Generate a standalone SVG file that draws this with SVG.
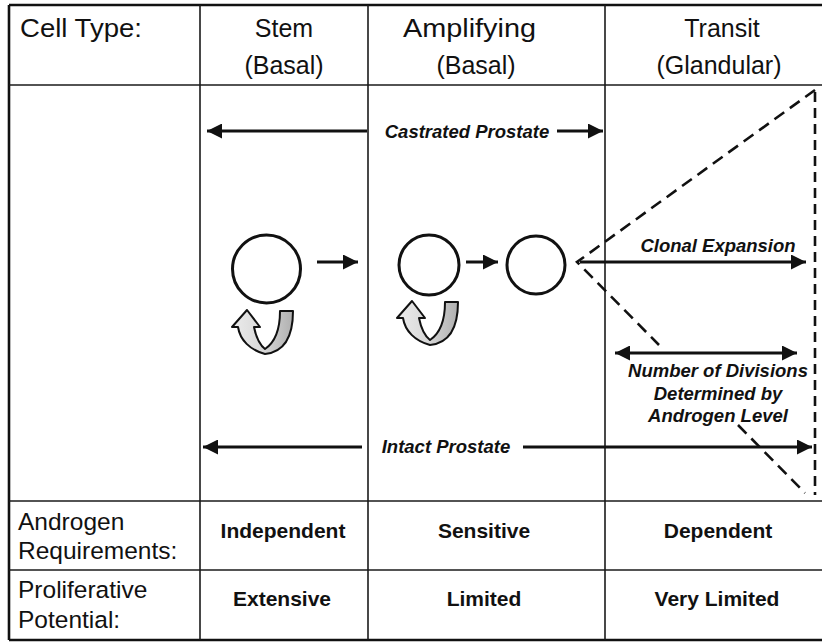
<svg xmlns="http://www.w3.org/2000/svg" width="822" height="642" viewBox="0 0 822 642">
<style>
.grid{stroke:#1a1a1a;stroke-width:1.6;fill:none}
.border{stroke:#111;stroke-width:2.6;fill:none}
.hdr{font-family:"Liberation Sans",Arial,sans-serif;font-size:25px;fill:#111}
.lbl{font-family:"Liberation Sans",Arial,sans-serif;font-size:24.5px;fill:#111}
.val{font-family:"Liberation Sans",Arial,sans-serif;font-size:21px;font-weight:bold;fill:#111}
.it{font-family:"Liberation Sans",Arial,sans-serif;font-size:18.5px;font-weight:bold;font-style:italic;fill:#111}
.cell{fill:#fff;stroke:#111;stroke-width:3}
.arr{stroke:#111;stroke-width:3;fill:none}
.dash{stroke:#111;stroke-width:2.6;fill:none;stroke-dasharray:12 7}
.uturn{fill:url(#ug);stroke:#111;stroke-width:2;stroke-linejoin:round}
</style>
<defs>
<marker id="ah" viewBox="0 0 10 10" refX="10" refY="5" markerWidth="5.5" markerHeight="5" markerUnits="strokeWidth" orient="auto-start-reverse">
<path d="M0,0 L10,5 L0,10 Z" fill="#111"/>
</marker>
<linearGradient id="ug" x1="0" y1="0" x2="1" y2="0">
<stop offset="0" stop-color="#ececec"/>
<stop offset="0.5" stop-color="#d8d8d8"/>
<stop offset="1" stop-color="#b0b0b0"/>
</linearGradient>
</defs>
<rect width="822" height="642" fill="#fff"/>

<g id="table">
<line class="border" x1="9" y1="5" x2="822" y2="5"/>
<line class="border" x1="9" y1="5" x2="9" y2="640"/>
<line class="border" x1="9" y1="640" x2="822" y2="640"/>
<line class="grid" x1="9" y1="85" x2="822" y2="85"/>
<line class="grid" x1="9" y1="501" x2="822" y2="501"/>
<line class="grid" x1="9" y1="570" x2="822" y2="570"/>
<line class="grid" x1="200" y1="5" x2="200" y2="640"/>
<line class="grid" x1="368" y1="5" x2="368" y2="640"/>
<line class="grid" x1="605" y1="5" x2="605" y2="640"/>
</g>

<g id="header">
<text class="hdr" x="20" y="37" textLength="122" lengthAdjust="spacingAndGlyphs">Cell Type:</text>
<text class="hdr" x="284" y="37" text-anchor="middle">Stem</text>
<text class="hdr" x="284" y="74" text-anchor="middle">(Basal)</text>
<text class="hdr" x="403" y="37" textLength="133" lengthAdjust="spacingAndGlyphs">Amplifying</text>
<text class="hdr" x="476" y="74" text-anchor="middle">(Basal)</text>
<text class="hdr" x="722" y="37" text-anchor="middle">Transit</text>
<text class="hdr" x="719" y="74" text-anchor="middle">(Glandular)</text>
</g>

<g id="row-androgen">
<text class="lbl" x="18" y="530">Androgen</text>
<text class="lbl" x="18" y="559">Requirements:</text>
<text class="val" x="283" y="538" text-anchor="middle">Independent</text>
<text class="val" x="484" y="538" text-anchor="middle">Sensitive</text>
<text class="val" x="718" y="538" text-anchor="middle">Dependent</text>
</g>

<g id="row-proliferative">
<text class="lbl" x="18" y="598">Proliferative</text>
<text class="lbl" x="18" y="628">Potential:</text>
<text class="val" x="282" y="606" text-anchor="middle">Extensive</text>
<text class="val" x="484" y="606" text-anchor="middle">Limited</text>
<text class="val" x="717" y="606" text-anchor="middle">Very Limited</text>
</g>

<g id="stem-cell">
<circle class="cell" cx="266.5" cy="269" r="34"/>
<path class="uturn" d="M280,311 L293,311 C293,335 285,352 265,354 C250,350 240,340 238,327 L232,327 L247,310 L260,327 L254,327 C256,337 260,345 265,349 C274,343 280,330 280,311 Z"/>
</g>

<g id="amplifying-cell-1">
<circle class="cell" cx="429" cy="265" r="30"/>
<path class="uturn" transform="translate(165,-9)" d="M280,311 L293,311 C293,335 285,352 265,354 C250,350 240,340 238,327 L232,327 L247,310 L260,327 L254,327 C256,337 260,345 265,349 C274,343 280,330 280,311 Z"/>
</g>

<g id="amplifying-cell-2">
<circle class="cell" cx="536" cy="265" r="29"/>
</g>

<g id="labels">
<text class="it" x="467" y="138" text-anchor="middle">Castrated Prostate</text>
<text class="it" x="718" y="252" text-anchor="middle">Clonal Expansion</text>
<text class="it" x="718" y="377" text-anchor="middle">Number of Divisions</text>
<text class="it" x="718" y="400" text-anchor="middle">Determined by</text>
<text class="it" x="718" y="422" text-anchor="middle">Androgen Level</text>
<text class="it" x="446" y="453" text-anchor="middle">Intact Prostate</text>
</g>

<g id="connectors">
<line class="arr" x1="367" y1="131" x2="207" y2="131" marker-end="url(#ah)"/>
<line class="arr" x1="557" y1="131" x2="603" y2="131" marker-end="url(#ah)"/>
<line class="arr" x1="317" y1="262" x2="358" y2="262" marker-end="url(#ah)"/>
<line class="arr" x1="466" y1="262" x2="498" y2="262" marker-end="url(#ah)"/>
<line class="arr" x1="580" y1="262" x2="806" y2="262" marker-end="url(#ah)"/>
<line class="arr" x1="615" y1="353" x2="797" y2="353" marker-start="url(#ah)" marker-end="url(#ah)"/>
<line class="arr" x1="362" y1="447" x2="203" y2="447" marker-end="url(#ah)"/>
<line class="arr" x1="523" y1="447" x2="812" y2="447" marker-end="url(#ah)"/>
<polyline class="dash" points="815,90 577,262 659,345"/>
<line class="dash" x1="738" y1="425" x2="805" y2="493"/>
<line class="dash" x1="815" y1="92" x2="815" y2="495" style="stroke-dasharray:10 6"/>
</g>
</svg>
